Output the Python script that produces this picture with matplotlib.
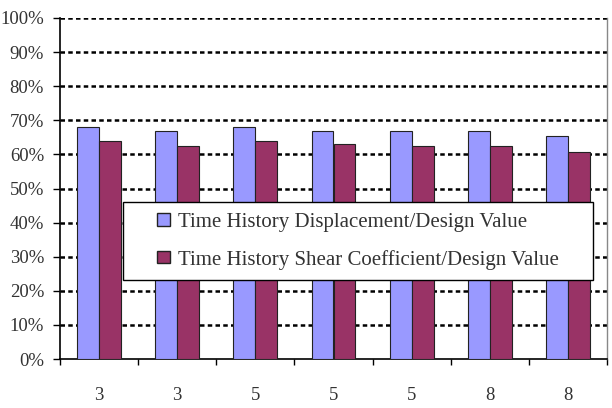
import matplotlib
matplotlib.use("Agg")
import matplotlib.pyplot as plt
from matplotlib.patches import Rectangle
from matplotlib.legend_handler import HandlerPatch
import numpy as np

categories = ["3", "3", "5", "5", "5", "8", "8"]
displacement = [68.1, 66.9, 68.1, 66.9, 66.9, 66.9, 65.5]
shear = [63.8, 62.6, 63.8, 63.1, 62.6, 62.6, 60.7]
series_names = ["Time History Displacement/Design Value",
                "Time History Shear Coefficient/Design Value"]
yticks = [0, 10, 20, 30, 40, 50, 60, 70, 80, 90, 100]

plt.rcParams['font.family'] = ['Liberation Serif', 'DejaVu Serif']

fig = plt.figure(figsize=(6.12, 4.08), dpi=100)
ax = fig.add_axes([60/612, 1-359/408, 547/612, 341/408])

x = np.arange(len(categories))
w = 0.28
b1 = ax.bar(x - w/2, displacement, w, color="#9999FF", edgecolor="#222222", linewidth=0.8, zorder=3)
b2 = ax.bar(x + w/2, shear, w, color="#993366", edgecolor="#222222", linewidth=0.8, zorder=3)

ax.set_xlim(-0.5, len(categories) - 0.5)
ax.set_ylim(0, 100)
ax.set_yticks(yticks)
ax.set_yticklabels([f"{t}%" for t in yticks])
ax.set_xticks(x)
ax.set_xticklabels(categories)
ax.set_xticks(np.arange(-0.5, len(categories) + 0.5, 1), minor=True)
ax.tick_params(axis='x', which='major', length=0, pad=20, labelsize=13.5, colors='#333333')
ax.tick_params(axis='x', which='minor', length=4, width=1, direction='out', color='black')
ax.tick_params(axis='y', length=5, width=1, direction='out', pad=6.5, labelsize=13.5, labelcolor='#333333')

for t in yticks[1:]:
    ax.axhline(t, color='black', linewidth=1.8, linestyle=(0, (1.8, 1.3)), zorder=1)

ax.spines['top'].set_visible(False)
ax.spines['right'].set_color('#888888')
ax.spines['right'].set_linewidth(1)
ax.spines['left'].set_linewidth(1.2)
ax.spines['bottom'].set_linewidth(1.2)


def square_handle(legend, orig_handle, xdescent, ydescent, width, height, fontsize):
    s = height
    return Rectangle((width - s - xdescent, -ydescent + (height - s) / 2), s, s)


hm = HandlerPatch(patch_func=square_handle)
fs = 15
leg = ax.legend([b1[0], b2[0]], series_names,
                loc='upper left', bbox_to_anchor=(0.115, 0.459, 0.859, 0.0), mode='expand',
                fontsize=fs, frameon=True, fancybox=False, shadow=False, edgecolor='black',
                framealpha=1.0,
                handlelength=1.75, handleheight=0.55, handletextpad=0.4, labelspacing=0.85,
                borderpad=0.5, borderaxespad=0,
                handler_map={Rectangle: hm})
leg.get_frame().set_linewidth(1.0)
leg.set_zorder(5)
for txt in leg.get_texts():
    txt.set_color('#333333')
for p in leg.get_patches():
    p.set_edgecolor('#222222')
    p.set_linewidth(1.0)

fig.savefig("out.png", dpi=100)
